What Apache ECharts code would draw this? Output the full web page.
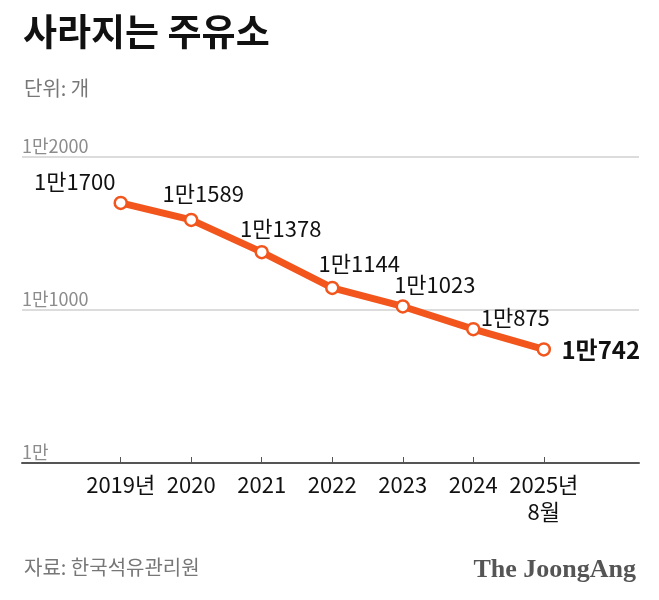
<!DOCTYPE html>
<html><head><meta charset="utf-8">
<script src="https://cdn.jsdelivr.net/npm/echarts@6/dist/echarts.min.js"></script>
<style>html,body{margin:0;padding:0;background:#fff}#c{width:659px;height:600px}</style>
</head><body><div id="c"></div>
<script>
const years = [2019, 2020, 2021, 2022, 2023, 2024, 2025];
const yearLabels = ['2019년', '2020', '2021', '2022', '2023', '2024', '2025년\n8월'];
const counts = [11700, 11589, 11378, 11144, 11023, 10875, 10742];
const valueLabels = ['1만1700', '1만1589', '1만1378', '1만1144', '1만1023', '1만875', '1만742'];
const yTicks = [10000, 11000, 12000];
const yTickLabels = ['1만', '1만1000', '1만2000'];

const FONT = '"Noto Sans CJK KR", "Noto Sans", sans-serif';
const ORANGE = '#F2561D';
// label offsets (layout only) relative to each point centre
const labelOffsets = [[-46, -21], [12, -26], [19, -24], [27, -24], [32, -22], [42, -11], [57, 0]];

const chart = echarts.init(document.getElementById('c'), null, { renderer: 'canvas' });
const seriesData = years.map((y, i) => {
  const last = i === years.length - 1;
  return {
    value: [y, counts[i]],
    label: {
      show: true,
      formatter: valueLabels[i],
      position: 'inside',
      align: 'center',
      verticalAlign: 'middle',
      offset: labelOffsets[i],
      fontSize: last ? 24 : 22,
      fontWeight: last ? 'bold' : 'normal',
      color: '#111',
      fontFamily: FONT
    }
  };
});

chart.setOption({
  backgroundColor: '#fff',
  animation: false,
  title: [
    { text: '사라지는 주유소', left: 18, top: 8, textStyle: { fontSize: 37, fontWeight: 'bold', color: '#111', fontFamily: FONT } },
    { text: '단위: 개', left: 19, top: 73, textStyle: { fontSize: 20, fontWeight: 'normal', color: '#777', fontFamily: FONT } },
    { text: '자료: 한국석유관리원', left: 19, top: 552, textStyle: { fontSize: 20, fontWeight: 'normal', color: '#777', fontFamily: FONT } },
    { text: 'The JoongAng', right: 18, top: 552, textStyle: { fontSize: 26, fontWeight: 'bold', color: '#555', fontFamily: '"Liberation Serif", "DejaVu Serif", serif' } }
  ],
  grid: { left: 22, right: 20, top: 157, bottom: 137, containLabel: false },
  xAxis: {
    type: 'value',
    min: 2017.6,
    max: 2026.35,
    axisLine: { show: true, lineStyle: { color: '#555', width: 2 } },
    axisTick: { show: true, inside: true, length: 6, customValues: years, lineStyle: { color: '#555', width: 1 } },
    axisLabel: {
      show: true,
      customValues: years,
      formatter: v => yearLabels[years.indexOf(Math.round(v))] || '',
      fontSize: 22,
      lineHeight: 27,
      color: '#111',
      margin: 8,
      fontFamily: FONT
    },
    splitLine: { show: false }
  },
  yAxis: {
    type: 'value',
    min: 10000,
    max: 12000,
    interval: 1000,
    axisLine: { show: false },
    axisTick: { show: false },
    axisLabel: {
      inside: true,
      margin: 0,
      verticalAlign: 'bottom',
      padding: [0, 0, 2, 0],
      formatter: v => yTickLabels[yTicks.indexOf(v)] || '',
      fontSize: 18,
      color: '#8c8c8c',
      fontFamily: FONT
    },
    splitLine: { show: true, lineStyle: { color: '#d0d0d0', width: 1.5 } }
  },
  series: [{
    type: 'line',
    data: seriesData,
    lineStyle: { color: ORANGE, width: 7 },
    symbol: 'circle',
    symbolSize: 12,
    itemStyle: { color: '#fff', borderColor: ORANGE, borderWidth: 2.5 },
    z: 5
  }]
});
</script></body></html>
